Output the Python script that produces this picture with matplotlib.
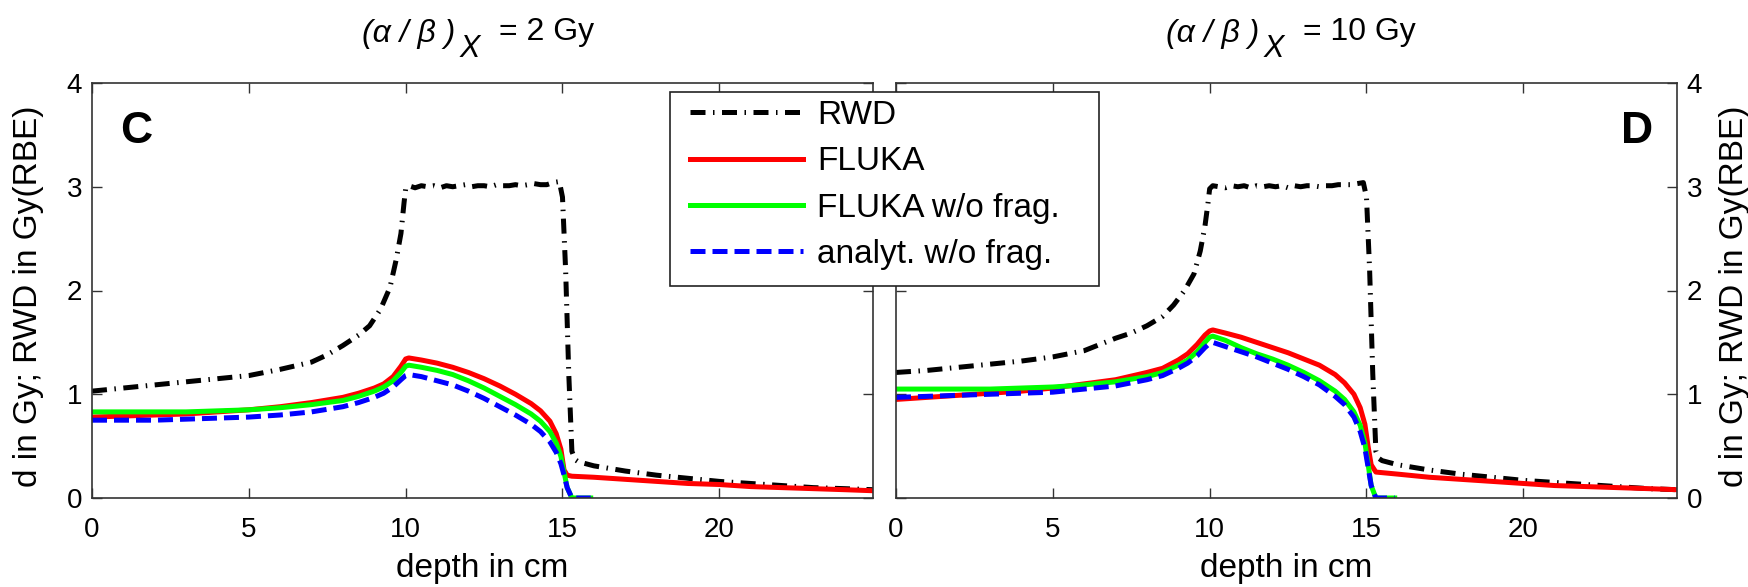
import matplotlib
matplotlib.use("Agg")
import matplotlib.pyplot as plt
from matplotlib.lines import Line2D
from matplotlib.patches import Rectangle

plt.rcParams['font.family'] = ['Liberation Sans', 'DejaVu Sans']

# ---------------- data ----------------
title_ratio = ['(α / β )', '(α / β )']
title_sub = ['X', 'X']
title_value = ['= 2 Gy', '= 10 Gy']
panel_letters = ['C', 'D']
legend_labels = ['RWD', 'FLUKA', 'FLUKA w/o frag.', 'analyt. w/o frag.']
x_ticks = [0, 5, 10, 15, 20]
y_ticks = [0, 1, 2, 3, 4]

# RWD depth grid (rise, noisy plateau, distal fall, tail)
rwd_depth = [0, 1, 2, 3, 4, 5, 6, 7, 7.5, 8, 8.5, 8.85, 9.2, 9.5, 9.7, 9.85, 9.95, 10.0,
             10.1, 10.3, 10.5, 10.7, 10.9, 11.1, 11.3, 11.5, 11.7, 11.9, 12.1, 12.3, 12.5,
             12.7, 12.9, 13.1, 13.3, 13.5, 13.7, 13.9, 14.1, 14.3, 14.5, 14.7, 14.9,
             15.0, 15.1, 15.2, 15.3, 15.4,
             15.5, 16, 17, 18, 19, 20, 21, 22, 23, 24, 24.9]
rwd_c = [1.03, 1.06, 1.09, 1.12, 1.15, 1.18, 1.24, 1.31, 1.38, 1.47, 1.57, 1.66, 1.82, 2.03, 2.30, 2.55, 2.85, 2.98,
         3.01, 2.99, 3.01, 3.00, 3.01, 2.99, 3.01, 3.00, 3.01, 3.02, 3.00, 3.01, 3.01,
         3.00, 3.02, 3.01, 3.01, 3.02, 3.01, 3.02, 3.03, 3.02, 3.02, 3.04, 3.05,
         2.90, 2.20, 1.20, 0.45, 0.37,
         0.35, 0.31, 0.26, 0.22, 0.19, 0.16, 0.14, 0.12, 0.10, 0.09, 0.08]
rwd_d = [1.21, 1.23, 1.26, 1.29, 1.32, 1.36, 1.42, 1.54, 1.59, 1.66, 1.75, 1.86, 2.00, 2.16, 2.38, 2.62, 2.85, 2.98,
         3.01, 3.00, 2.99, 3.01, 3.00, 3.01, 2.99, 3.01, 3.00, 3.01, 3.00, 3.01, 2.99,
         3.01, 3.00, 3.01, 3.01, 3.00, 3.01, 3.01, 3.02, 3.02, 3.02, 3.03, 3.04,
         2.90, 2.20, 1.20, 0.45, 0.38,
         0.36, 0.32, 0.27, 0.23, 0.20, 0.17, 0.15, 0.13, 0.11, 0.09, 0.08]

# biological dose curves
bio_depth = [0, 1, 2, 3, 4, 5, 6, 7, 8, 8.5, 9, 9.3, 9.6, 9.85, 10.0, 10.1, 10.5, 11, 11.5,
             12, 12.5, 13, 13.5, 14, 14.3, 14.6, 14.8, 14.95, 15.05, 15.15, 15.3]
fluka_c = [0.78, 0.79, 0.80, 0.81, 0.83, 0.85, 0.88, 0.92, 0.97, 1.01, 1.06, 1.10, 1.17, 1.27, 1.34, 1.35,
           1.33, 1.30, 1.26, 1.21, 1.15, 1.08, 1.00, 0.91, 0.84, 0.74, 0.62, 0.47, 0.27, 0.22, 0.21]
nofrag_c = [0.83, 0.83, 0.83, 0.83, 0.84, 0.85, 0.87, 0.90, 0.94, 0.98, 1.03, 1.07, 1.13, 1.21, 1.27, 1.28,
            1.26, 1.23, 1.19, 1.13, 1.06, 0.98, 0.90, 0.81, 0.74, 0.64, 0.53, 0.40, 0.25, 0.10, 0.0]
analyt_c = [0.75, 0.75, 0.75, 0.76, 0.77, 0.78, 0.80, 0.83, 0.88, 0.92, 0.97, 1.01, 1.07, 1.14, 1.18, 1.19,
            1.17, 1.13, 1.09, 1.03, 0.96, 0.88, 0.80, 0.71, 0.64, 0.54, 0.44, 0.33, 0.22, 0.10, 0.0]
fluka_d = [0.95, 0.97, 0.99, 1.01, 1.03, 1.06, 1.10, 1.14, 1.21, 1.25, 1.33, 1.39, 1.48, 1.57, 1.61, 1.62,
           1.59, 1.55, 1.50, 1.45, 1.40, 1.34, 1.28, 1.19, 1.11, 1.00, 0.87, 0.71, 0.50, 0.32, 0.25]
nofrag_d = [1.05, 1.05, 1.05, 1.05, 1.06, 1.07, 1.09, 1.12, 1.17, 1.21, 1.28, 1.33, 1.41, 1.50, 1.55, 1.56,
            1.52, 1.45, 1.39, 1.34, 1.28, 1.21, 1.13, 1.03, 0.95, 0.83, 0.70, 0.53, 0.33, 0.12, 0.0]
analyt_d = [0.97, 0.98, 0.99, 1.00, 1.01, 1.02, 1.05, 1.08, 1.14, 1.18, 1.25, 1.30, 1.37, 1.45, 1.49, 1.50,
            1.46, 1.41, 1.36, 1.30, 1.24, 1.17, 1.09, 0.98, 0.90, 0.78, 0.64, 0.48, 0.30, 0.12, 0.0]

# distal tails
fluka_tail_depth = [15.3, 16, 17, 18, 19, 20, 21, 22, 23, 24, 24.9]
fluka_tail_c = [0.21, 0.20, 0.18, 0.16, 0.14, 0.13, 0.11, 0.10, 0.09, 0.08, 0.07]
fluka_tail_d = [0.25, 0.23, 0.20, 0.18, 0.16, 0.14, 0.12, 0.11, 0.10, 0.09, 0.08]
zero_tail_depth = [15.3, 15.9]
zero_tail = [0.0, 0.0]

# ---------------- figure ----------------
W, H = 1749, 587
fig = plt.figure(figsize=(W / 100, H / 100), dpi=100)

ax_b, ax_w, ax_h = 83, 781, 415
ax_lefts = [92, 896]
axes = [fig.add_axes([l / W, 1 - (ax_b + ax_h) / H, ax_w / W, ax_h / H]) for l in ax_lefts]

LW = 3.6
dashdot = (0, (3.0, 1.5, 0.3, 1.5))
dashed = (0, (3.0, 1.4))

rwd_sets = [rwd_c, rwd_d]
fluka_sets = [fluka_c, fluka_d]
fluka_tails = [fluka_tail_c, fluka_tail_d]
nofrag_sets = [nofrag_c, nofrag_d]
analyt_sets = [analyt_c, analyt_d]

for i, ax in enumerate(axes):
    ax.plot(rwd_depth, rwd_sets[i], color='black', lw=LW, linestyle=dashdot, dash_capstyle='butt')
    ax.plot(bio_depth + fluka_tail_depth[1:], fluka_sets[i] + fluka_tails[i][1:], color='#ff0000', lw=LW,
            solid_joinstyle='round')
    ax.plot(bio_depth + zero_tail_depth[1:], nofrag_sets[i] + zero_tail[1:], color='#00ff00', lw=LW)
    ax.plot(bio_depth + zero_tail_depth[1:], analyt_sets[i] + zero_tail[1:], color='#0000ff', lw=LW,
            linestyle=dashed, dash_capstyle='butt')

    ax.set_xlim(0, 24.9)
    ax.set_ylim(0, 4)
    ax.set_xticks(x_ticks)
    ax.set_yticks(y_ticks)
    ax.tick_params(direction='in', length=7, width=1.0, color='#333333', labelsize=20,
                   top=True, bottom=True, left=True, right=True)
    ax.tick_params(axis='x', pad=14)
    ax.tick_params(axis='y', pad=7)
    for sp in ax.spines.values():
        sp.set_linewidth(1.2)
        sp.set_color('#333333')

    ax.set_xlabel('depth in cm', fontsize=24)
    ax.xaxis.set_label_coords(0.5, -0.171)
    ax.xaxis.label.set_va('center')

    # title made of pieces: italic ratio, large italic subscript, value
    off = ax_lefts[i] - ax_lefts[0]
    fig.text((362 + off) / W, 1 - 42 / H, title_ratio[i], fontsize=23, fontstyle='italic',
             ha='left', va='baseline')
    fig.text((460 + off) / W, 1 - 57 / H, title_sub[i], fontsize=22, fontstyle='italic',
             ha='left', va='baseline')
    fig.text((499 + off) / W, 1 - 40 / H, title_value[i], fontsize=23, ha='left', va='baseline')

axes[0].text(0.056, 0.884, panel_letters[0], transform=axes[0].transAxes, ha='center', va='center',
             fontsize=32, fontweight='bold')
axes[1].text(0.949, 0.884, panel_letters[1], transform=axes[1].transAxes, ha='center', va='center',
             fontsize=32, fontweight='bold')

ylab = 'd in Gy; RWD in Gy(RBE)'
axes[0].set_ylabel(ylab, fontsize=24)
axes[0].yaxis.set_label_coords(-0.0807, 0.487)
axes[0].yaxis.label.set_va('center')
axes[0].tick_params(axis='y', labelleft=True, labelright=False)

axes[1].tick_params(axis='y', labelleft=False, labelright=True)
axes[1].yaxis.set_label_position('right')
axes[1].set_ylabel(ylab, fontsize=24)
axes[1].yaxis.set_label_coords(1.073, 0.487)
axes[1].yaxis.label.set_va('center')
axes[1].yaxis.label.set_rotation(90)

# legend frame (figure coords) and legend entries
frame = Rectangle((670 / W, 1 - 286 / H), 429 / W, 194 / H, transform=fig.transFigure,
                  facecolor='white', edgecolor='#222222', lw=1.2, zorder=4)
fig.patches.append(frame)

handles = [Line2D([], [], color='black', lw=LW, linestyle=dashdot, dash_capstyle='butt'),
           Line2D([], [], color='#ff0000', lw=LW),
           Line2D([], [], color='#00ff00', lw=LW),
           Line2D([], [], color='#0000ff', lw=LW, linestyle=dashed, dash_capstyle='butt')]
fig.legend(handles, legend_labels, loc='upper left', bbox_to_anchor=(690 / W, 1 - 100 / H),
           frameon=False, fontsize=24, handlelength=3.4, handletextpad=0.42,
           labelspacing=0.46, borderpad=0, borderaxespad=0)

fig.savefig('out.png', dpi=100)
